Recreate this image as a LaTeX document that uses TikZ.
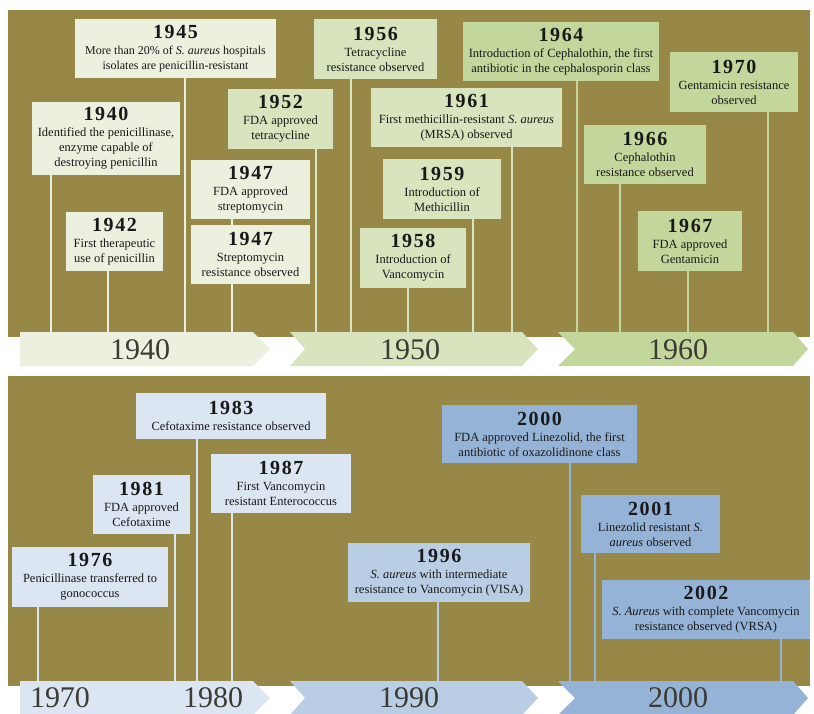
\documentclass[tikz,border=0pt]{standalone}
\usepackage{fontspec}
\setmainfont{Liberation Serif}
\newfontfamily\yrfont[LetterSpace=8]{Liberation Serif}
\usetikzlibrary{positioning}

\definecolor{olive}{HTML}{988848}
\definecolor{c40}{HTML}{EBF1DE}
\definecolor{c50}{HTML}{D7E4BD}
\definecolor{c60}{HTML}{C3D69B}
\definecolor{c70}{HTML}{DCE6F2}
\definecolor{c90}{HTML}{B9CDE5}
\definecolor{c00}{HTML}{95B3D7}
\definecolor{bandtext}{HTML}{3C3C34}

\newcommand{\yr}[1]{{\yrfont\fontsize{20}{22}\selectfont\bfseries #1}\\[1pt]}

\begin{document}
\begin{tikzpicture}[x=1pt,y=-1pt,
    evbox/.style={rectangle,inner sep=0pt,align=center,text=black!90,
                  font=\fontsize{12.5}{15}\selectfont},
    ln/.style={line width=2pt},
    bandlabel/.style={text=bandtext,inner sep=0pt,font=\fontsize{30}{30}\selectfont}
                   ]

    \useasboundingbox (0,0) rectangle (814,713);

    % panels
    \fill[olive] (8,10) rectangle (810,337);
    \fill[olive] (8,376) rectangle (810,686);

    % feet of the lines on the bands
    \coordinate (f1940) at (51,332);
    \coordinate (f1942) at (108,332);
    \coordinate (f1945) at (185,332);
    \coordinate (f1947) at (232,332);
    \coordinate (f1952) at (316,332);
    \coordinate (f1956) at (351,332);
    \coordinate (f1958) at (408,332);
    \coordinate (f1959) at (473,332);
    \coordinate (f1961) at (512,332);
    \coordinate (f1964) at (577,332);
    \coordinate (f1966) at (620,332);
    \coordinate (f1967) at (688,332);
    \coordinate (f1970) at (768,332);
    \coordinate (f1976) at (38,681);
    \coordinate (f1981) at (175,681);
    \coordinate (f1983) at (197,681);
    \coordinate (f1987) at (232,681);
    \coordinate (f1996) at (438,681);
    \coordinate (f2000) at (570,681);
    \coordinate (f2001) at (595,681);
    \coordinate (f2002) at (781,681);

    % top row: 1940s
    \node[evbox,fill=c40,minimum width=148pt,minimum height=73pt](e1940) at (106,138.5) {\yr{1940}
        Identified the penicillinase,\\ enzyme capable of\\ destroying penicillin};
    \node[evbox,fill=c40,minimum width=97pt,minimum height=59pt](e1942) at (114.5,241.5) {\yr{1942}
        First therapeutic\\ use of penicillin};
    \node[evbox,fill=c40,minimum width=201pt,minimum height=59pt,
          font=\fontsize{12}{15}\selectfont](e1945) at (175.5,48.5) {\yr{1945}
        More than 20\% of \emph{S. aureus} hospitals\\ isolates are penicillin-resistant};
    \node[evbox,fill=c40,minimum width=119pt,minimum height=59pt](e1947a) at (250.5,189.5) {\yr{1947}
        FDA approved\\ streptomycin};
    \node[evbox,fill=c40,minimum width=119pt,minimum height=59pt](e1947b) at (250.5,254.5) {\yr{1947}
        Streptomycin\\ resistance observed};

    % top row: 1950s
    \node[evbox,fill=c50,minimum width=105pt,minimum height=60pt](e1952) at (280.5,119) {\yr{1952}
        FDA approved\\ tetracycline};
    \node[evbox,fill=c50,minimum width=123pt,minimum height=60pt](e1956) at (375.5,49) {\yr{1956}
        Tetracycline\\ resistance observed};
    \node[evbox,fill=c50,minimum width=106pt,minimum height=60pt](e1958) at (413,258) {\yr{1958}
        Introduction of\\ Vancomycin};
    \node[evbox,fill=c50,minimum width=118pt,minimum height=60pt](e1959) at (442,189) {\yr{1959}
        Introduction of\\ Methicillin};
    \node[evbox,fill=c50,minimum width=191pt,minimum height=59pt](e1961) at (466.5,117.5) {\yr{1961}
        First methicillin-resistant \emph{S. aureus}\\ (MRSA) observed};

    % top row: 1960s
    \node[evbox,fill=c60,minimum width=196pt,minimum height=59pt](e1964) at (561,51.5) {\yr{1964}
        Introduction of Cephalothin, the first\\ antibiotic in the cephalosporin class};
    \node[evbox,fill=c60,minimum width=122pt,minimum height=59pt](e1966) at (645,154.5) {\yr{1966}
        Cephalothin\\ resistance observed};
    \node[evbox,fill=c60,minimum width=104pt,minimum height=60pt](e1967) at (690,241) {\yr{1967}
        FDA approved\\ Gentamicin};
    \node[evbox,fill=c60,minimum width=128pt,minimum height=60pt](e1970) at (734,82) {\yr{1970}
        Gentamicin resistance\\ observed};

    % bottom row
    \node[evbox,fill=c70,minimum width=156pt,minimum height=60pt](e1976) at (90,577) {\yr{1976}
        Penicillinase transferred to\\ gonococcus};
    \node[evbox,fill=c70,minimum width=97pt,minimum height=59pt](e1981) at (141.5,504.5) {\yr{1981}
        FDA approved\\ Cefotaxime};
    \node[evbox,fill=c70,minimum width=190pt,minimum height=46pt](e1983) at (231,416) {\yr{1983}
        Cefotaxime resistance observed};
    \node[evbox,fill=c70,minimum width=140pt,minimum height=59pt](e1987) at (281,483.5) {\yr{1987}
        First Vancomycin\\ resistant Enterococcus};
    \node[evbox,fill=c90,minimum width=182pt,minimum height=59pt](e1996) at (439,572.5) {\yr{1996}
        \emph{S. aureus} with intermediate\\ resistance to Vancomycin (VISA)};
    \node[evbox,fill=c00,minimum width=195pt,minimum height=58pt](e2000) at (539.5,434) {\yr{2000}
        FDA approved Linezolid, the first\\ antibiotic of oxazolidinone class};
    \node[evbox,fill=c00,minimum width=139pt,minimum height=58pt](e2001) at (650.5,524) {\yr{2001}
        Linezolid resistant \emph{S.}\\ \emph{aureus} observed};
    \node[evbox,fill=c00,minimum width=208pt,minimum height=59pt](e2002) at (706,609.5) {\yr{2002}
        \emph{S. Aureus} with complete Vancomycin\\ resistance observed (VRSA)};

    % lines down to the bands
    \path[ln,draw=c40] (e1940.south -| f1940) edge (f1940)
    (e1942.south -| f1942) edge (f1942)
    (e1945.south -| f1945) edge (f1945)
    (e1947a.south -| f1947) edge (e1947b.north -| f1947)
    (e1947b.south -| f1947) edge (f1947);
    \path[ln,draw=c50] (e1952.south -| f1952) edge (f1952)
    (e1956.south -| f1956) edge (f1956)
    (e1958.south -| f1958) edge (f1958)
    (e1959.south -| f1959) edge (f1959)
    (e1961.south -| f1961) edge (f1961);
    \path[ln,draw=c60] (e1964.south -| f1964) edge (f1964)
    (e1966.south -| f1966) edge (f1966)
    (e1967.south -| f1967) edge (f1967)
    (e1970.south -| f1970) edge (f1970);
    \path[ln,draw=c70] (e1976.south -| f1976) edge (f1976)
    (e1981.south -| f1981) edge (f1981)
    (e1983.south -| f1983) edge (f1983)
    (e1987.south -| f1987) edge (f1987);
    \path[ln,draw=c90] (e1996.south -| f1996) edge (f1996);
    \path[ln,draw=c00] (e2000.south -| f2000) edge (f2000)
    (e2001.south -| f2001) edge (f2001)
    (e2002.south -| f2002) edge (f2002);

    % bands
    \fill[c40] (20,332) -- (253,332) -- (270,349) -- (253,366) -- (20,366) -- cycle;
    \fill[c50] (290,332) -- (522,332) -- (538,349) -- (522,366) -- (290,366) -- (305,349) -- cycle;
    \fill[c60] (558,332) -- (793,332) -- (808,349) -- (793,366) -- (558,366) -- (575,349) -- cycle;
    \fill[c70] (20,681) -- (253,681) -- (270,698) -- (253,715) -- (20,715) -- cycle;
    \fill[c90] (290,681) -- (522,681) -- (538,698) -- (522,715) -- (290,715) -- (305,698) -- cycle;
    \fill[c00] (558,681) -- (793,681) -- (808,698) -- (793,715) -- (558,715) -- (575,698) -- cycle;

    \node[bandlabel](d1940) at (140,350) {1940};
    \node[bandlabel](d1950) at (410,350) {1950};
    \node[bandlabel](d1960) at (678,350) {1960};
    \node[bandlabel](d1970) at (60,698) {1970};
    \node[bandlabel](d1980) at (213,698) {1980};
    \node[bandlabel](d1990) at (409,698) {1990};
    \node[bandlabel](d2000) at (678,698) {2000};

\end{tikzpicture}
\end{document}
